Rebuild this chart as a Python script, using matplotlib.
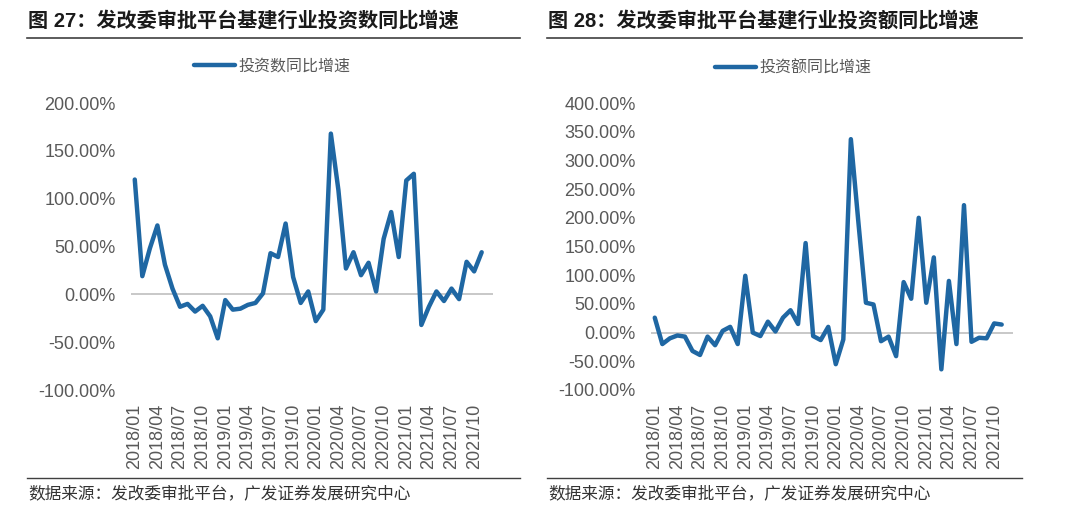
import numpy as np
import matplotlib.pyplot as plt
from matplotlib.lines import Line2D
from matplotlib.ticker import FuncFormatter

plt.rcParams['font.family'] = ['Liberation Sans', 'Noto Sans CJK SC']
plt.rcParams['axes.unicode_minus'] = False

W, H = 1080, 523

# monthly, 2018/01 .. 2021/11
months = [f'{y}/{m:02d}' for y in range(2018, 2022) for m in range(1, 13)][:47]

count_yoy = [120, 19, 48, 72, 31, 6, -13, -10, -18, -12, -23, -46,
             -6, -16, -15, -11, -9, 1, 43, 39, 74, 18, -9, 3,
             -28, -16, 168, 109, 27, 44, 20, 33, 3, 58, 86, 39,
             119, 126, -32, -13, 3, -7, 6, -5, 34, 24, 44]

amount_yoy = [26, -20, -10, -5, -7, -32, -39, -7, -22, 3, 10, -20,
              99, 0, -6, 19, 2, 26, 39, 15, 156, -6, -13, 10,
              -55, -12, 337, 192, 52, 49, -15, -7, -41, 88, 59, 200,
              52, 131, -64, 90, -20, 222, -16, -9, -10, 16, 14]

titles = ['图 27：发改委审批平台基建行业投资数同比增速',
          '图 28：发改委审批平台基建行业投资额同比增速']
legend_names = ['投资数同比增速', '投资额同比增速']
source = '数据来源：发改委审批平台，广发证券发展研究中心'

line_color = '#1f67a3'
grey = '#595959'
cjk = ['Liberation Sans', 'Noto Sans CJK SC']

fig = plt.figure(figsize=(W / 100, H / 100), dpi=100)
fig.patch.set_facecolor('white')


def fx(px):
    return px / W


def fy(py):
    return 1 - py / H


panels = [
    dict(left=131, data=count_yoy, ylim=(-100, 200), step=50, title_x=28,
         rule=(27, 520), leg=(272, 66), name=legend_names[0], title=titles[0]),
    dict(left=651, data=amount_yoy, ylim=(-100, 400), step=50, title_x=548,
         rule=(547, 1022), leg=(793, 68), name=legend_names[1], title=titles[1]),
]

x = np.arange(len(months))

for p in panels:
    ax = fig.add_axes([fx(p['left']), fy(390), fx(362), 287 / H])
    ax.plot(x, p['data'], color=line_color, lw=3.2, solid_joinstyle='round',
            solid_capstyle='round', label=p['name'], zorder=3)
    ax.axhline(0, color='#bfbfbf', lw=1.2, zorder=1)
    ax.set_xlim(-0.5, 47.5)
    ax.set_ylim(*p['ylim'])
    ax.set_yticks(np.arange(p['ylim'][0], p['ylim'][1] + 1, p['step']))
    ax.yaxis.set_major_formatter(FuncFormatter(lambda v, _: f'{v:.2f}%'))
    ax.set_xticks(x[::3])
    ax.set_xticklabels(months[::3], rotation=90, va='top', ha='center')
    for s in ax.spines.values():
        s.set_visible(False)
    ax.tick_params(axis='both', length=0, labelsize=13, labelcolor=grey)
    ax.tick_params(axis='y', pad=11)
    ax.tick_params(axis='x', pad=10)

    leg = ax.legend(loc='center', bbox_to_anchor=(fx(p['leg'][0]), fy(p['leg'][1])),
                    bbox_transform=fig.transFigure, frameon=False, handlelength=2.6,
                    handletextpad=0.2, prop={'family': cjk, 'size': 11.5})
    for t in leg.get_texts():
        t.set_color(grey)

    fig.text(fx(p['title_x']), fy(21), p['title'], ha='left', va='center',
             fontsize=14.5, fontweight='bold', color='#1a1a1a', family=cjk)
    fig.add_artist(Line2D([fx(p['rule'][0]), fx(p['rule'][1])], [fy(38), fy(38)],
                          color='#404040', lw=1.2))
    fig.add_artist(Line2D([fx(p['rule'][0]), fx(p['rule'][1])], [fy(478), fy(478)],
                          color='#404040', lw=1.0))
    fig.text(fx(p['title_x']), fy(494), source, ha='left', va='center',
             fontsize=12, color='#333333', family=cjk)

fig.savefig('out.png', dpi=100)
